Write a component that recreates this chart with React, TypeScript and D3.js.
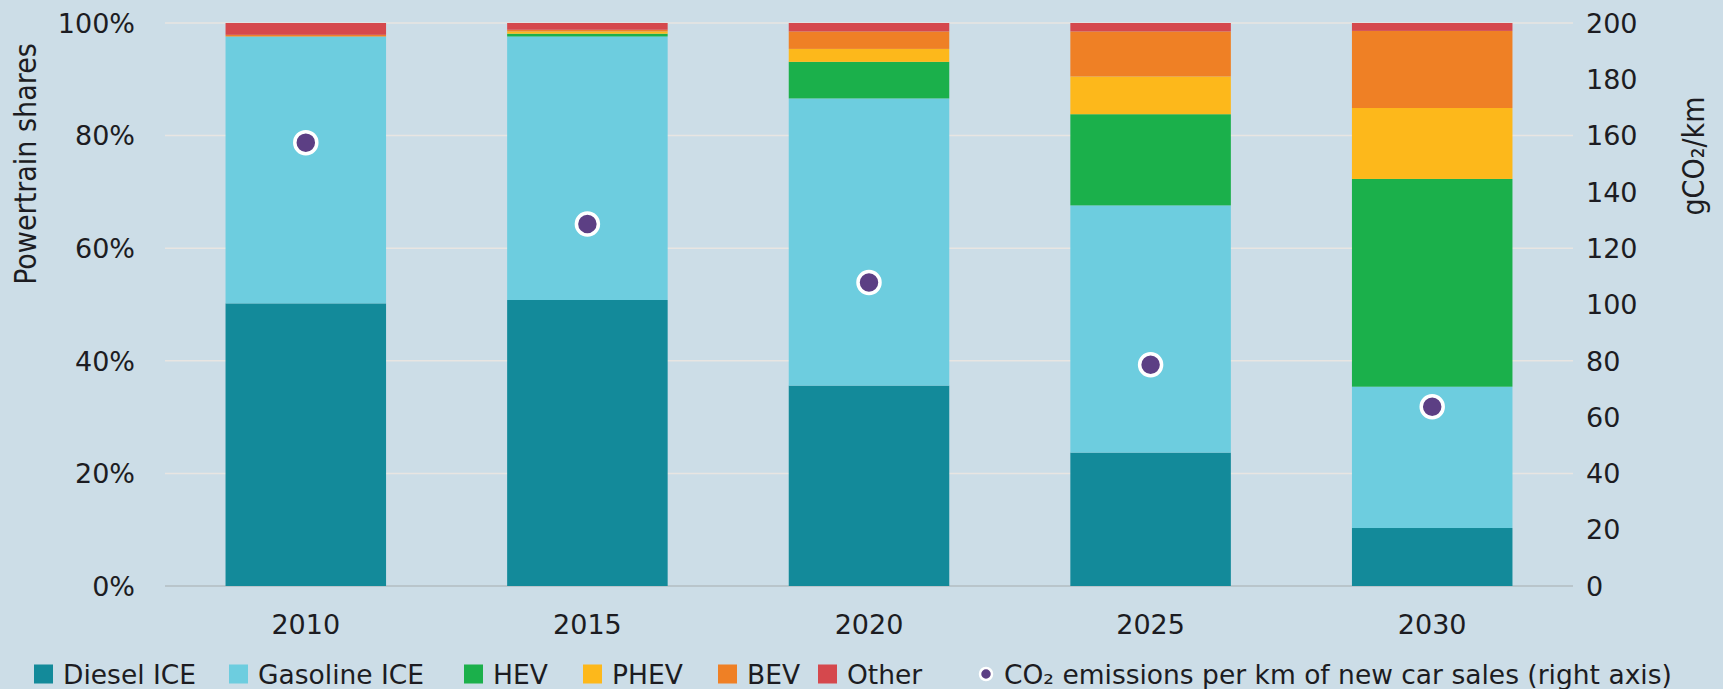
import * as d3 from 'd3'

const WIDTH = 1723
const HEIGHT = 689
const BG = '#ccdde7'
const GRID = '#e8e5e2'
const TEXT = '#1c1c22'
const FONT = "'DejaVu Sans', Verdana, sans-serif"
const TITLE_FONT = "'DejaVu Sans Condensed', 'DejaVu Sans', sans-serif"

const years = ['2010', '2015', '2020', '2025', '2030']

// powertrain shares, % of new car sales
const diesel = [50.2, 50.8, 35.6, 23.7, 10.3]
const gasoline = [47.4, 46.8, 51.0, 43.9, 25.1]
const hev = [0, 0.5, 6.5, 16.2, 36.9]
const phev = [0, 0.4, 2.3, 6.7, 12.6]
const bev = [0.3, 0.3, 3.1, 8.0, 13.7]
const other = [2.1, 1.2, 1.5, 1.5, 1.4]

// gCO2/km, right axis
const co2 = [157.5, 128.6, 107.8, 78.6, 63.7]

const leftTicks = [0, 20, 40, 60, 80, 100]
const rightTicks = [0, 20, 40, 60, 80, 100, 120, 140, 160, 180, 200]

const seriesKeys = ['diesel', 'gasoline', 'hev', 'phev', 'bev', 'other'] as const
const seriesLabels = ['Diesel ICE', 'Gasoline ICE', 'HEV', 'PHEV', 'BEV', 'Other']
const seriesColors = ['#138a9a', '#6dcddf', '#1bb04b', '#fdb81b', '#ef8025', '#d5484d']
const co2Label = 'CO₂ emissions per km of new car sales (right axis)'
const CO2_COLOR = '#5c3f84'

const PLOT_LEFT = 165
const PLOT_RIGHT = 1573
const PLOT_TOP = 23
const PLOT_BOTTOM = 586

// legend item starts (square left edge)
const LEGEND_X = [34, 229, 464, 583, 718, 818]
const LEGEND_DOT_X = 986
const LEGEND_Y = 674

export default function App() {
  const rows = years.map((year, i) => ({
    year,
    diesel: diesel[i],
    gasoline: gasoline[i],
    hev: hev[i],
    phev: phev[i],
    bev: bev[i],
    other: other[i],
  }))

  const stacked = d3.stack<(typeof rows)[number]>().keys(seriesKeys as unknown as string[])(rows)

  const x = d3
    .scaleBand()
    .domain(years)
    .range([PLOT_LEFT, PLOT_RIGHT])
    .paddingInner(0.43)
    .paddingOuter(0.215)

  const yLeft = d3.scaleLinear().domain([0, 100]).range([PLOT_BOTTOM, PLOT_TOP])
  const yRight = d3.scaleLinear().domain([0, 200]).range([PLOT_BOTTOM, PLOT_TOP])

  return (
    <svg
      width={WIDTH}
      height={HEIGHT}
      style={{ position: 'absolute', left: 0, top: 0, background: BG }}
    >
      <rect x={0} y={0} width={WIDTH} height={HEIGHT} fill={BG} />

      {leftTicks
        .filter((t) => t > 0)
        .map((t) => (
          <line
            key={`g${t}`}
            x1={PLOT_LEFT}
            x2={PLOT_RIGHT}
            y1={yLeft(t)}
            y2={yLeft(t)}
            stroke={GRID}
            strokeWidth={1.5}
          />
        ))}
      <line
        x1={PLOT_LEFT}
        x2={PLOT_RIGHT}
        y1={yLeft(0)}
        y2={yLeft(0)}
        stroke="#b3bcc2"
        strokeWidth={1.5}
      />

      {stacked.map((layer, si) => (
        <g key={layer.key} fill={seriesColors[si]}>
          {layer.map((d, i) => {
            const h = yLeft(d[0]) - yLeft(d[1])
            if (h <= 0) return null
            return (
              <rect
                key={years[i]}
                x={x(years[i])}
                y={yLeft(d[1])}
                width={x.bandwidth()}
                height={h}
              />
            )
          })}
        </g>
      ))}

      {co2.map((v, i) => (
        <circle
          key={`c${i}`}
          cx={(x(years[i]) ?? 0) + x.bandwidth() / 2}
          cy={yRight(v)}
          r={11}
          fill={CO2_COLOR}
          stroke="#ffffff"
          strokeWidth={3.5}
        />
      ))}

      <g fontFamily={FONT} fontSize={27} fill={TEXT}>
        {leftTicks.map((t) => (
          <text key={`l${t}`} x={135} y={yLeft(t)} dy="0.36em" textAnchor="end">
            {`${t}%`}
          </text>
        ))}
        {rightTicks.map((t) => (
          <text key={`r${t}`} x={1586} y={yRight(t)} dy="0.36em" textAnchor="start">
            {t}
          </text>
        ))}
        {years.map((year) => (
          <text
            key={`x${year}`}
            x={(x(year) ?? 0) + x.bandwidth() / 2}
            y={634}
            textAnchor="middle"
          >
            {year}
          </text>
        ))}
      </g>

      <text
        transform="translate(36,164) rotate(-90)"
        fontFamily={TITLE_FONT}
        fontStretch="condensed"
        fontSize={30}
        fill={TEXT}
        textAnchor="middle"
      >
        Powertrain shares
      </text>
      <text
        transform="translate(1704,156) rotate(-90)"
        fontFamily={TITLE_FONT}
        fontStretch="condensed"
        fontSize={30}
        fill={TEXT}
        textAnchor="middle"
      >
        gCO₂/km
      </text>

      <g fontFamily={FONT} fontSize={26.5} fill={TEXT}>
        {seriesLabels.map((label, i) => (
          <g key={label} transform={`translate(${LEGEND_X[i]},${LEGEND_Y})`}>
            <rect x={0} y={-9.5} width={19} height={19} fill={seriesColors[i]} />
            <text x={29} y={9.5}>
              {label}
            </text>
          </g>
        ))}
        <g transform={`translate(${LEGEND_DOT_X},${LEGEND_Y})`}>
          <circle cx={0} cy={0} r={6} fill={CO2_COLOR} stroke="#ffffff" strokeWidth={2.5} />
          <text x={18} y={9.5}>
            {co2Label}
          </text>
        </g>
      </g>
    </svg>
  )
}
